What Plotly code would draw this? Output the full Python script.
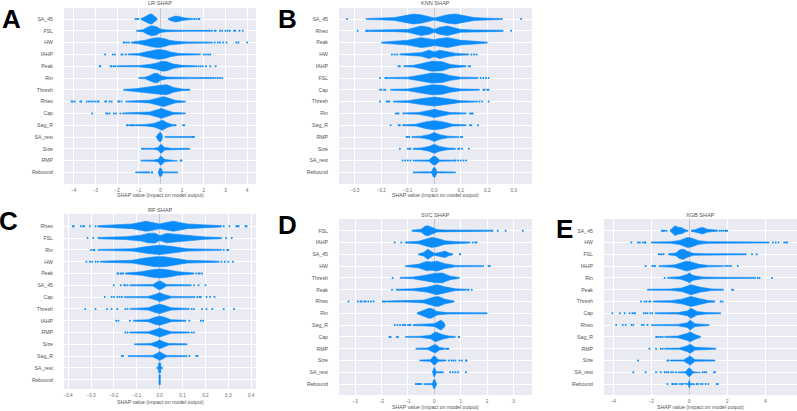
import plotly.graph_objects as go

# ---------- Panel A: LR ----------
LR_FEATURES = ["SA_45","FSL","HW","fAHP","Peak","Rin","Thresh","Rheo","Cap","Sag_R","SA_rest","Size","RMP","Rebound"]
LR_X = [[-0.9,-0.8,-0.65,-0.5,-0.4,-0.3,-0.2,-0.15,-0.14,0.33,0.36,0.5,0.7,0.9,1.1,1.4],
 [-1.1,-0.8,-0.6,-0.4,-0.2,0,0.3,0.7,1.2,2.4],
 [-1.35,-1,-0.7,-0.4,-0.1,0.2,0.4,0.7,1.2,2.4],
 [-1.5,-1,-0.7,-0.4,-0.1,0.2,0.5,0.9,1.85],
 [-2.0,-1,-.5,-.2,.1,.3,.6,1,1.6],
 [-1,-.7,-.5,-.3,-.15,0,.3,.8,1.5,2.4],
 [-1.7,-1.2,-.8,-.4,0,.3,.6,1,1.3],
 [-1.6,-1,-.5,-.1,.15,.4,.7,1.15],
 [-1.75,-1,-.5,-.15,.05,.3,.6,1.15],
 [-1.2,-.7,-.3,0,.1,.3,.5,.7],
 [-.2,-.1,-.03,.05,.1,.2,.21,.22,.5,1,1.4],
 [-.75,-.3,-.1,0,.05,.2,.5,1,1.35],
 [-.9,-.3,-.1,0,.05,.2,.45,.8],
 [-1.15,-.5,-.4,-.25,-.1,-.03,.05,.1,.15,.5,.8]]
LR_H = [[.05,.1,.25,.4,.42,.3,.12,.04,0,0,.05,.15,.25,.2,.1,.05],
 [.04,.08,.3,.42,.35,.15,.07,.05,.04,.04],
 [.04,.1,.2,.35,.42,.33,.2,.12,.06,.04],
 [.04,.08,.2,.33,.42,.35,.18,.07,.04],
 [.04,.05,.15,.25,.42,.38,.18,.07,.04],
 [.04,.07,.2,.38,.4,.2,.08,.05,.05,.04],
 [.04,.08,.18,.3,.38,.42,.2,.07,.04],
 [.04,.05,.12,.3,.42,.28,.1,.04],
 [.04,.05,.12,.3,.42,.25,.08,.04],
 [.04,.06,.15,.35,.42,.2,.08,.03],
 [.03,.3,.4,.3,.03,0,0,.05,.04,.05,.04],
 [.04,.04,.12,.35,.35,.1,.04,.05,.04],
 [.04,.05,.12,.38,.35,.1,.05,.03],
 [.04,.05,0,0,.03,.35,.3,.04,.05,.05,.04]]
LR_DOTS = [[-1.15,-1.08,-1.02,1.45,1.55,1.65,1.75,1.8],
 [2.5,2.55,2.75,2.85,3.0,3.1,3.2,3.4,3.45,3.65,3.8],
 [-1.7,-1.65,-1.55,-1.45,2.5,2.65,2.75,2.9,3.05,3.5,3.6,4.0],
 [-2.55,-2.2,-2.1,-1.8,-1.75,-1.6,2.0,2.1,2.2,2.3],
 [-2.8,-2.78,-2.3,-2.25,-2.15,-2.08,1.65,1.75,1.85,1.95,2.1,2.3,2.55],
 [2.45,2.55,2.65,2.75,2.85],
 [1.25,1.33],
 [-4.1,-4.05,-3.95,-3.7,-3.65,-3.4,-3.3,-3.2,-3.1,-3,-2.9,-2.85,-2.55,-2.5,-2.35,-2.25,-1.95,-1.9,-1.8],
 [-3.15,-2.5,-2.45,-2.35,-2.15,-2.05,-1.85],
 [-1.55,-1.5,-1.4,-1.35,-1.3,-1.25,.7,1.05,1.1],
 [1.45,1.5,1.55],
 [-.85,-.8],
 [.93,.97],
 [-.38,-.4]]
LR_TICKS = [-4,-3,-2,-1,0,1,2,3,4]

# ---------- Panel B: KNN ----------
KNN_FEATURES = ["SA_45","Rheo","Peak","HW","fAHP","FSL","Cap","Thresh","Rin","Sag_R","RMP","Size","SA_rest","Rebound"]
KNN_X = [[-.25,-.2,-.15,-.1,-.08,-.05,-.02,0,.02,.05,.08,.1,.15,.2,.25],
 [-.26,-.15,-.1,-.05,-.02,0,.02,.05,.1,.15,.26],
 [-.2,-.15,-.1,-.05,-.02,0,.02,.05,.1,.15,.2],
 [-.13,-.1,-.05,-.02,0,.02,.05,.08,.1,.13],
 [-.115,-.08,-.05,-.01,.03,.06,.09,.12],
 [-.17,-.1,-.05,-.01,.03,.06,.1,.165],
 [-.165,-.1,-.05,-.01,.03,.06,.1,.17],
 [-.155,-.1,-.05,0,.05,.1,.155],
 [-.12,-.06,-.02,0,.02,.06,.12],
 [-.12,-.07,-.03,0,.03,.07,.12],
 [-.085,-.05,-.02,0,.02,.05,.085],
 [-.08,-.05,-.02,0,.02,.05,.08],
 [-.08,-.02,-.005,.005,.02,.08],
 [-.08,-.025,-.02,-.01,-.003,.003,.01,.02,.025,.08]]
KNN_H = [[.04,.07,.12,.33,.42,.35,.2,.08,.2,.35,.42,.33,.12,.07,.04],
 [.05,.07,.12,.4,.3,.12,.3,.4,.12,.07,.05],
 [.04,.1,.2,.42,.35,.25,.35,.42,.2,.1,.04],
 [.04,.06,.15,.35,.2,.35,.2,.1,.06,.04],
 [.04,.07,.2,.42,.38,.15,.07,.04],
 [.04,.07,.25,.42,.38,.2,.07,.04],
 [.04,.07,.25,.42,.38,.2,.07,.04],
 [.04,.07,.25,.38,.25,.07,.04],
 [.04,.07,.25,.35,.25,.07,.04],
 [.04,.07,.3,.38,.3,.07,.04],
 [.04,.07,.2,.38,.2,.07,.04],
 [.04,.07,.2,.38,.2,.07,.04],
 [.04,.05,.35,.35,.05,.04],
 [.04,.05,.03,.06,.4,.4,.06,.03,.05,.04]]
KNN_DOTS = [[-.33,-.255,.255,.328],
 [-.29,-.255,.29],
 [],
 [-.16,-.15,-.14,.14,.15,.16],
 [-.135,-.13,.13,.135],
 [-.205,-.185,-.18,-.175,.175,.185,.195,.205],
 [-.205,-.2,-.19,-.185,.185,.19,.2,.205],
 [-.205,-.18,-.175,-.17,.16,.17,.18,.205],
 [-.145,-.14,-.135,.135,.14,.145],
 [-.165,-.135,-.13,.135,.14,.165],
 [-.105,-.1,-.095,.09,.1,.105],
 [-.13,-.1,-.095,-.09,.09,.095,.105,.13],
 [-.12,-.11,-.1,-.09,.08,.09,.1,.11,.12],
 []]
KNN_TICKS = [-.3,-.2,-.1,0,.1,.2,.3]

# ---------- Panel C: RF ----------
RF_FEATURES = ["Rheo","FSL","Rin","HW","Peak","SA_45","Cap","Thresh","fAHP","RMP","Size","Sag_R","SA_rest","Rebound"]
RF_X = [[-.27,-.2,-.12,-.06,-.03,0,.03,.06,.12,.2,.27],
 [-.27,-.15,-.08,-.05,-.02,0,.03,.06,.12,.2,.27],
 [-.27,-.12,-.05,0,.05,.12,.27],
 [-.26,-.12,-.07,-.02,.02,.07,.12,.26],
 [-.15,-.08,-.04,0,.04,.08,.15],
 [-.13,-.03,-.005,.005,.03,.13],
 [-.155,-.05,-.015,0,.015,.05,.155],
 [-.13,-.05,-.02,0,.02,.05,.13],
 [-.115,-.05,-.02,0,.02,.05,.115],
 [-.13,-.05,-.01,0,.01,.05,.13],
 [-.11,-.04,-.01,0,.01,.04,.12],
 [-.13,-.03,-.01,0,.01,.03,.12],
 [-.012,-.006,-.004,.004,.006,.012],
 [-.003,.003]]
RF_H = [[.05,.1,.2,.42,.33,.2,.33,.42,.2,.1,.05],
 [.05,.12,.25,.4,.42,.2,.4,.35,.22,.1,.05],
 [.04,.1,.3,.4,.3,.1,.04],
 [.04,.12,.3,.42,.42,.3,.12,.04],
 [.04,.15,.3,.38,.3,.15,.04],
 [.04,.06,.35,.35,.06,.04],
 [.04,.06,.25,.38,.25,.06,.04],
 [.04,.1,.3,.4,.3,.1,.04],
 [.04,.08,.3,.38,.3,.08,.04],
 [.04,.06,.3,.38,.3,.06,.04],
 [.04,.06,.25,.38,.25,.06,.04],
 [.04,.06,.25,.38,.25,.06,.04],
 [.05,.07,.42,.42,.07,.05],
 [.42,.42]]
RF_DOTS = [[-.38,-.375,-.345,-.335,-.33,-.305,-.28,.28,.305,.335,.34,.345,.375,.38],
 [-.315,-.29,.29,.315],
 [-.3,-.29,-.285,.28,.295,.3],
 [-.32,-.305,-.295,-.28,-.27,.27,.285,.3,.32],
 [-.185,-.18,-.17,-.165,-.16,.16,.17,.175,.185],
 [-.2,-.17,-.155,-.15,-.14,.135,.15,.17,.2],
 [-.24,-.21,-.2,-.185,-.175,-.165,.165,.175,.18,.205,.22,.24],
 [-.325,-.28,-.23,-.21,-.185,-.15,-.14,.14,.15,.185,.205,.23,.28,.325],
 [-.19,-.18,-.13,.13,.18,.19],
 [-.15,-.14,.14,.15],
 [],
 [-.165,-.16,-.135,.13,.16,.165],
 [],
 []]
RF_TICKS = [-.4,-.3,-.2,-.1,0,.1,.2,.3,.4]

# ---------- Panel D: SVC ----------
SVC_FEATURES = ["FSL","fAHP","SA_45","HW","Thresh","Peak","Rheo","Rin","Sag_R","Cap","RMP","Size","SA_rest","Rebound"]
SVC_X = [[-.85,-.5,-.35,-.25,-.1,.1,.4,1,2.2],
 [-1.1,-.6,-.3,-.1,.1,.4,.8,1.35],
 [-.6,-.4,-.25,-.1,0,.2,.4,.55,.7],
 [-1.1,-.6,-.3,-.1,.1,.4,.8,1.8],
 [-1.3,-.8,-.4,0,.3,.6,.95],
 [-1.45,-.8,-.3,.1,.4,.8,1.2],
 [-1.8,-1,-.4,0,.15,.4,.75],
 [-.65,-.4,-.2,-.1,.1,.5,1,2],
 [-.8,-.4,0,.15,.25,.35,.4],
 [-1.1,-.5,-.15,.05,.3,.55,.8],
 [-.7,-.25,-.05,.05,.2,.4],
 [-.55,-.15,-.03,.03,.15,.45],
 [-.07,-.02,0,.02,.07,.35],
 [-.4,-.07,-.02,.02,.07,.1]]
SVC_H = [[.04,.12,.38,.42,.3,.1,.06,.05,.04],
 [.04,.1,.3,.42,.35,.15,.07,.04],
 [.04,.15,.42,.2,.08,.15,.27,.12,.04],
 [.04,.15,.38,.35,.42,.2,.06,.04],
 [.04,.07,.2,.38,.42,.15,.04],
 [.04,.07,.2,.42,.25,.07,.04],
 [.04,.05,.12,.38,.42,.2,.04],
 [.04,.25,.42,.4,.15,.06,.05,.04],
 [.05,.06,.12,.3,.42,.25,.08],
 [.04,.05,.15,.42,.2,.07,.04],
 [.04,.06,.28,.35,.1,.04],
 [.04,.07,.35,.35,.07,.04],
 [.04,.35,.4,.35,.05,.04],
 [.04,.05,.38,.38,.06,.04]]
SVC_DOTS = [[2.2,2.4,2.7,3.35],
 [-1.5,-1.25,1.45,1.55,1.6],
 [.97,.98],
 [1.85,2.05,2.1],
 [-1.58],
 [-1.6,1.25,1.3,1.42],
 [-3.25,-2.9,-2.8,-2.75,-2.65,-2.6,-2.5,-2.4,-2.3,-1.95,-1.9,-1.85],
 [],
 [-1.5,-1.4,-1.3,-1.2,-1.15,-1.1,-1,-.95,-.9],
 [-1.7,-1.65,-1.42,-1.38,.92,.94],
 [.45,.5,.53],
 [.55,.65,.72,.8,.95,1.05,1.2,1.22],
 [.6,.7,.8,.9,1.2],
 [-.7,-.65,-.6,-.55,-.5]]
SVC_TICKS = [-3,-2,-1,0,1,2,3]

# ---------- Panel E: XGB ----------
XGB_FEATURES = ["SA_45","HW","FSL","fAHP","Rin","Peak","Thresh","Cap","Rheo","Sag_R","RMP","Size","SA_rest","Rebound"]
XGB_X = [[-1.0,-.85,-.75,-.6,-.4,-.25,-.15,.1,.12,.3,.5,.7,.95,1.2,1.5],
 [-2,-1,-.5,-.1,.1,.5,1,2,4.2],
 [-1.1,-.7,-.5,-.3,-.1,.2,.8,3],
 [-1.6,-.8,-.4,-.15,.1,.5,1,1.8],
 [-1.15,-.5,-.1,0,.2,.7,1.5,3.5],
 [-2.2,-1,-.4,.1,.6,1.2,1.8],
 [-1.9,-1,-.4,.1,.5,1,1.35],
 [-1.8,-.6,-.1,.1,.4,.9,1.65],
 [-2,-.6,-.1,.05,.3,1.05],
 [-1.3,-.6,-.1,.05,.3,.6],
 [-1.3,-.5,-.1,.05,.3,1.4],
 [-1,-.3,-.05,.05,.3,1.35],
 [-.6,-.2,-.03,.03,.2,.6],
 [-.3,-.05,0,.05,.3]]
XGB_H = [[.05,.25,.42,.3,.25,.12,.05,0,.04,.08,.2,.28,.12,.08,.04],
 [.04,.06,.18,.42,.38,.15,.07,.05,.04],
 [.04,.12,.38,.42,.25,.08,.05,.04],
 [.04,.1,.28,.42,.35,.15,.06,.04],
 [.04,.1,.3,.42,.2,.07,.05,.04],
 [.04,.05,.15,.42,.2,.06,.04],
 [.04,.07,.2,.42,.25,.08,.04],
 [.04,.06,.2,.42,.15,.06,.04],
 [.04,.06,.2,.42,.12,.04],
 [.04,.07,.3,.42,.2,.04],
 [.04,.05,.25,.38,.12,.04],
 [.04,.05,.3,.38,.07,.04],
 [.03,.05,.35,.35,.05,.03],
 [.03,.05,.35,.05,.03]]
XGB_DOTS = [[-1.45,-1.4,-1.35,-1.3,-1.2,-.1,.15,1.6,1.7,1.8,1.9,1.95,2],
 [-3.05,-2.7,-2.6,-2.45,-2.35,-2.3,4.4,4.55,4.7,5,5.1,5.15],
 [-1.6,-1.55,-1.45,-1.35,3.3,3.55],
 [-2.3,-1.95,-1.85,-1.8,1.9,2,2.1,2.2,2.55],
 [-1.3,3.6,3.7,4.35],
 [2.25,2.3],
 [-2.55,-2.35,-2.25,-2.1,-2.05,1.65,1.75],
 [-4.05,-3.65,-3.4,-3.15,-3,-2.9,-2.85,-2.4,-2.3,-2.2,-2.05,-1.95],
 [-3.85,-3.5,-3.35,-3.05,-2.95,-2.5,-2.4,-2.2],
 [-1.75,-1.7,-1.6,-1.5,-1.4],
 [-2.1,-1.75,-1.5,-1.4],
 [-2.7,-1.15,-1.1],
 [-2.95,-2.3,-1.75,-1.5,-1.3,-1.2,-1.1,-.95,-.85,-.7,.7,.8,.9,1.3,1.35],
 [-1.15,-.9,-.85,-.75,-.65,-.5,-.4,-.35,.4,.45,.6,.7,.85,1,1.45,1.5]]
XGB_TICKS = [-4,-2,0,2,4]

TITLES = ["LR SHAP","KNN SHAP","RF SHAP","SVC SHAP","XGB SHAP"]
XLABELS = ["SHAP value (impact on model output)"]*5
LETTERS = ["A","B","C","D","E"]

W, H = 797, 411
BLUE = "#0A8CFB"
ROW = 11.8
# left, right, top, bottom, px of first row, title y, xlabel y, xrange, letter x, letter y
GEOM = [
 (64,256,8,184,19,3,195,(-4.45,4.41),11.5,19),
 (339,532,8,184,19,3,195,(-0.36,0.369),287,19),
 (64,256,214,389,226.3,210,402,(-0.418,0.421),8.5,221),
 (339,532,219,395,230.7,215,407,(-3.61,3.7),287,224.5),
 (604,797,219,395,230.7,215,407,(-4.49,5.67),564,228.5),
]
PANELS = [
 (LR_FEATURES,LR_X,LR_H,LR_DOTS,LR_TICKS),
 (KNN_FEATURES,KNN_X,KNN_H,KNN_DOTS,KNN_TICKS),
 (RF_FEATURES,RF_X,RF_H,RF_DOTS,RF_TICKS),
 (SVC_FEATURES,SVC_X,SVC_H,SVC_DOTS,SVC_TICKS),
 (XGB_FEATURES,XGB_X,XGB_H,XGB_DOTS,XGB_TICKS),
]

def outline(x, h, row):
    """Closed outline(s) of one swarm; a zero half-height leaves a gap."""
    segs, cur = [], []
    for a, b in zip(x, h):
        if b == 0:
            if cur:
                segs.append(cur)
            cur = []
        else:
            cur.append((a, b))
    if cur:
        segs.append(cur)
    px, py = [], []
    for s in segs:
        xs_ = [p[0] for p in s]
        hs_ = [p[1] for p in s]
        px += xs_ + xs_[::-1] + [xs_[0], None]
        py += [row - v for v in hs_] + [row + v for v in hs_[::-1]] + [row - hs_[0], None]
    return px, py

fig = go.Figure()
layout = {}
ann = []
for i,(panel,g) in enumerate(zip(PANELS,GEOM)):
    feats,xs,hs,dots,ticks = panel
    l,r,t,b,r0,ty,ly,xr,lx,lety = g
    n = str(i+1) if i else ""
    xa,ya = "x"+n,"y"+n
    for row,(x,h,d) in enumerate(zip(xs,hs,dots)):
        px,py = outline(x,h,row)
        fig.add_trace(go.Scatter(x=px,y=py,mode="lines",fill="toself",fillcolor=BLUE,
            line=dict(width=0.6,color=BLUE),xaxis=xa,yaxis=ya,showlegend=False,hoverinfo="skip"))
        if d:
            fig.add_trace(go.Scatter(x=d,y=[row]*len(d),mode="markers",
                marker=dict(color=BLUE,size=2,line=dict(width=0)),
                xaxis=xa,yaxis=ya,showlegend=False,hoverinfo="skip"))
    layout["xaxis"+n] = dict(domain=[l/W,r/W],range=list(xr),anchor=ya,tickvals=ticks,
        tickfont=dict(size=4.6,color="#666666"),showgrid=True,gridcolor="white",gridwidth=0.6,
        zeroline=True,zerolinecolor="#C8C8CC",zerolinewidth=1,ticks="outside",ticklen=1,
        tickcolor="rgba(0,0,0,0)",showline=False,tickformat=".1f" if i in (1,2) else "d")
    layout["yaxis"+n] = dict(domain=[1-b/H,1-t/H],range=[(b-r0)/ROW,(t-r0)/ROW],anchor=xa,
        tickvals=list(range(len(feats))),ticktext=feats,
        tickfont=dict(size=5.2,color="#555555"),showgrid=True,gridcolor="white",gridwidth=0.6,
        zeroline=False,ticks="outside",ticklen=9,tickcolor="rgba(0,0,0,0)",showline=False)
    cx = (l+r)/2/W
    ann.append(dict(text=TITLES[i],x=cx,y=1-ty/H,xref="paper",yref="paper",showarrow=False,
        xanchor="center",yanchor="middle",font=dict(size=5.6,color="#555555")))
    ann.append(dict(text=XLABELS[i],x=cx,y=1-ly/H,xref="paper",yref="paper",showarrow=False,
        xanchor="center",yanchor="middle",font=dict(size=5.2,color="#555555")))
    ann.append(dict(text="<b>%s</b>"%LETTERS[i],x=lx/W,y=1-lety/H,xref="paper",yref="paper",showarrow=False,
        xanchor="center",yanchor="middle",font=dict(size=26,color="black",family="Liberation Sans")))

fig.update_layout(width=W,height=H,autosize=False,margin=dict(l=0,r=0,t=0,b=0),
    paper_bgcolor="white",plot_bgcolor="#EAEAF2",
    font=dict(family="Liberation Sans, Arial, sans-serif"),
    annotations=ann,showlegend=False,**layout)
fig.write_html("out.html",config={"displayModeBar":False},
    post_script="document.body.style.margin='0';")
